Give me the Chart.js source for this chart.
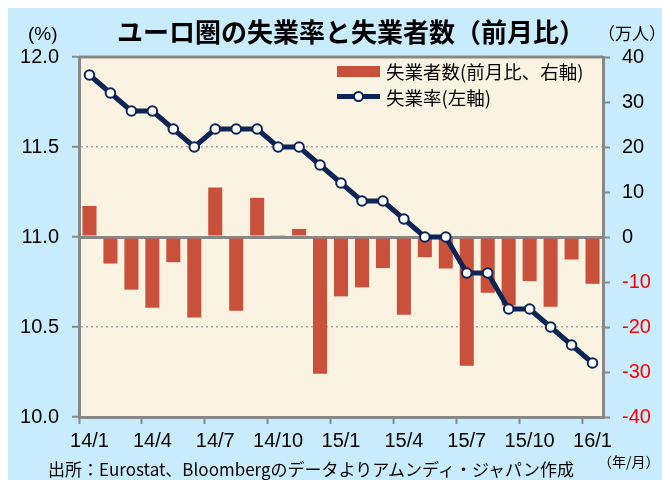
<!DOCTYPE html>
<html>
<head>
<meta charset="utf-8">
<script src="https://cdn.jsdelivr.net/npm/chart.js@4"></script>
<style>
  body { margin: 0; background: #fff; }
  #wrap { position: relative; width: 662px; height: 480px; overflow: hidden; }
  #bg { position: absolute; left: 8px; top: 8px; right: 0; bottom: 0; background: #C8ECFB; }
  canvas { position: absolute; left: 0; top: 0; }
  .txt { position: absolute; white-space: nowrap; color: #000; font-family: "Noto Sans CJK JP", "Liberation Sans", sans-serif; }
  .num { font-family: "Liberation Sans", Arial, sans-serif; }
  .lg { position: absolute; }
</style>
</head>
<body>
<div id="wrap">
  <div id="bg"></div>
  <canvas id="chart" width="662" height="480"></canvas>
  <div class="txt" style="left:117px;top:16px;font-size:26px;font-weight:bold;line-height:30px;">ユーロ圏の失業率と失業者数（前月比）</div>
  <div class="txt num" style="left:28px;top:23px;font-size:19px;line-height:22px;">(%)</div>
  <div class="txt" style="left:598px;top:22px;font-size:17px;line-height:22px;">（万人）</div>
  <div class="lg" style="left:337px;top:66px;width:43px;height:11px;background:#C9503A;"></div>
  <div class="txt" style="left:386px;top:59px;font-size:18.5px;line-height:24px;">失業者数(前月比、右軸)</div>
  <div class="lg" style="left:337px;top:94px;width:43px;height:5px;background:#0C2456;"></div>
  <div class="lg" style="left:353px;top:91px;width:7px;height:7px;border:2px solid #0C2456;border-radius:50%;background:#fff;"></div>
  <div class="txt" style="left:386px;top:85px;font-size:18.5px;line-height:24px;">失業率(左軸)</div>
  <div class="txt" style="left:48px;top:458px;font-size:17px;line-height:22px;">出所：Eurostat、Bloombergのデータよりアムンディ・ジャパン作成</div>
  <div class="txt" style="left:598px;top:452px;font-size:14px;line-height:18px;">（年/月）</div>
</div>
<script>
  // months 2014/1 - 2016/1
  const months = ['14/1', '14/2', '14/3', '14/4', '14/5', '14/6', '14/7', '14/8', '14/9',
    '14/10', '14/11', '14/12', '15/1', '15/2', '15/3', '15/4', '15/5', '15/6', '15/7',
    '15/8', '15/9', '15/10', '15/11', '15/12', '16/1'];

  // unemployment rate (%), left axis
  const unemploymentRate = [11.9, 11.8, 11.7, 11.7, 11.6, 11.5, 11.6, 11.6, 11.6,
    11.5, 11.5, 11.4, 11.3, 11.2, 11.2, 11.1, 11.0, 11.0, 10.8,
    10.8, 10.6, 10.6, 10.5, 10.4, 10.3];

  // change in unemployed (10k persons, m/m), right axis
  const unemployedChange = [6.9, -5.9, -11.7, -15.7, -5.6, -17.9, 11.0, -16.4, 8.7,
    0.4, 1.8, -30.4, -13.2, -11.2, -6.9, -17.3, -4.5, -7.0, -28.6,
    -12.4, -15.2, -9.8, -15.5, -5.0, -10.4];

  const leftRange = [10, 12];
  const rightRange = [-40, 40];

  const axisGray = '#888888';
  const numFont = { family: '"Liberation Sans", Arial, sans-serif', size: 20 };

  // cream plot area + top frame line
  const plotBg = {
    id: 'plotBg',
    beforeDraw(chart) {
      const { ctx, chartArea: a } = chart;
      ctx.save();
      ctx.fillStyle = '#FBF3E1';
      ctx.fillRect(a.left, a.top, a.right - a.left, a.bottom - a.top);
      ctx.strokeStyle = axisGray;
      ctx.lineWidth = 3;
      ctx.beginPath();
      ctx.moveTo(a.left, a.top);
      ctx.lineTo(a.right, a.top);
      ctx.stroke();
      ctx.restore();
    }
  };

  new Chart(document.getElementById('chart'), {
    data: {
      labels: months,
      datasets: [
        {
          type: 'line',
          label: '失業率(左軸)',
          data: unemploymentRate,
          yAxisID: 'y',
          borderColor: '#0C2456',
          borderWidth: 5,
          pointRadius: 4.8,
          pointBorderWidth: 2,
          pointBackgroundColor: '#fff',
          pointBorderColor: '#0C2456',
          tension: 0,
          order: 0
        },
        {
          type: 'bar',
          label: '失業者数(前月比、右軸)',
          data: unemployedChange,
          yAxisID: 'y1',
          backgroundColor: '#C9503A',
          barPercentage: 0.67,
          categoryPercentage: 1,
          order: 1
        }
      ]
    },
    options: {
      responsive: false,
      animation: false,
      layout: { padding: { top: 57, left: 0, right: 0, bottom: 0 } },
      plugins: { legend: { display: false }, tooltip: { enabled: false } },
      scales: {
        x: {
          type: 'category',
          offset: true,
          afterFit: s => { s.height = 63; },
          grid: {
            offset: true,
            drawOnChartArea: false,
            tickLength: 7,
            tickWidth: 2,
            tickColor: ctx => (ctx.index % 3 === 0 ? axisGray : 'transparent')
          },
          border: { color: axisGray, width: 3 },
          ticks: {
            autoSkip: false,
            maxRotation: 0,
            padding: 5,
            color: '#000',
            font: numFont,
            callback: (v, i) => (i % 3 === 0 ? months[i] : '')
          }
        },
        y: {
          position: 'left',
          min: leftRange[0],
          max: leftRange[1],
          afterFit: s => { s.width = 79; },
          grid: {
            lineWidth: 1.5,
            color: ctx => (ctx.tick && (ctx.tick.value === 11.5 || ctx.tick.value === 10.5) ? '#A8A8A8' : 'transparent'),
            tickColor: axisGray,
            tickWidth: 2,
            tickLength: 7
          },
          border: { color: axisGray, width: 3, dash: [2, 3] },
          ticks: {
            stepSize: 0.5,
            padding: 13,
            color: '#000',
            font: numFont,
            callback: v => v.toFixed(1)
          }
        },
        y1: {
          position: 'right',
          min: rightRange[0],
          max: rightRange[1],
          afterFit: s => { s.width = 59; },
          grid: {
            lineWidth: 3,
            color: ctx => (ctx.tick && ctx.tick.value === 0 ? axisGray : 'transparent'),
            tickColor: axisGray,
            tickWidth: 2,
            tickLength: 7
          },
          border: { color: axisGray, width: 3 },
          ticks: {
            stepSize: 10,
            padding: 12,
            font: numFont,
            color: ctx => (ctx.tick && ctx.tick.value < 0 ? '#FF0000' : '#000')
          }
        }
      }
    },
    plugins: [plotBg]
  });
</script>
</body>
</html>
